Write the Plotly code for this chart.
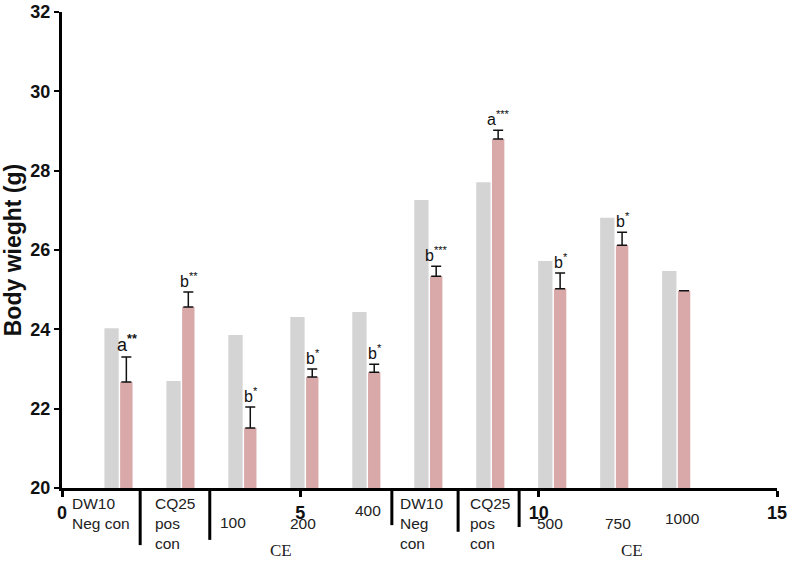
import plotly.graph_objects as go

# 数据
groups = ["DW10 Neg con", "CQ25 pos con", "CE 100", "CE 200", "CE 400",
          "DW10 Neg con", "CQ25 pos con", "CE 500", "CE 750", "CE 1000"]
grey_vals = [24.03, 22.70, 23.86, 24.31, 24.44, 27.26, 27.71, 25.72, 26.81, 25.47]
pink_vals = [22.67, 24.56, 21.51, 22.80, 22.92, 25.34, 28.80, 25.02, 26.12, 24.97]
pink_err = [0.63, 0.38, 0.53, 0.20, 0.20, 0.25, 0.22, 0.40, 0.33, None]
sig_labels = ["a<sup><b>**</b></sup>", "b<sup>**</sup>", "b<sup>*</sup>", "b<sup>*</sup>",
              "b<sup>*</sup>", "b<sup>***</sup>", "a<sup>***</sup>", "b<sup>*</sup>",
              "b<sup>*</sup>", ""]
x_ticks = [0, 5, 10, 15]
y_ticks = [20, 22, 24, 26, 28, 30, 32]

# 组位置（数值x轴）
xpos = [1.2 + 1.3 * i for i in range(len(groups))]

FONT = "Arial, Liberation Sans, sans-serif"

fig = go.Figure()
fig.add_trace(go.Bar(
    x=xpos, y=grey_vals, offset=-0.31, width=0.30,
    marker=dict(color='#d4d4d4', line_width=0), name='before'
))
fig.add_trace(go.Bar(
    x=xpos, y=pink_vals, offset=0.02, width=0.26,
    marker=dict(color='#d9a9a9', line_width=0), name='after',
    error_y=dict(type='data', symmetric=False, array=pink_err,
                 arrayminus=[0] * len(pink_err),
                 color='#111111', thickness=1.5, width=5)
))

annotations = []
# 显著性标记
for i, (x, v, e, lab) in enumerate(zip(xpos, pink_vals, pink_err, sig_labels)):
    if lab:
        annotations.append(dict(
            x=x + 0.16, y=v + (e or 0), xref='x', yref='y', text=lab, showarrow=False,
            yanchor='bottom', font=dict(family=FONT, size=18 if i == 0 else 16, color='#111')
        ))

# x轴下方的分组标签 (x, 文本, 距轴像素)
under_labels = [
    (0.17, "DW10<br>Neg con", 5),
    (1.91, "CQ25<br>pos<br>con", 5),
    (3.27, "100", 24),
    (4.74, "200", 25),
    (6.10, "400", 12),
    (7.05, "DW10<br>Neg<br>con", 5),
    (8.52, "CQ25<br>pos<br>con", 5),
    (9.92, "500", 25),
    (11.35, "750", 25),
    (12.60, "1000", 20),
]
for x, t, off in under_labels:
    annotations.append(dict(
        x=x, y=0, xref='x', yref='paper', text=t, showarrow=False,
        xanchor='left', yanchor='top', yshift=-off, align='left',
        font=dict(family=FONT, size=15.5, color='#222')
    ))
for x in [4.59, 11.96]:
    annotations.append(dict(
        x=x, y=0, xref='x', yref='paper', text="CE", showarrow=False,
        xanchor='center', yanchor='top', yshift=-51,
        font=dict(family="Liberation Serif, Times New Roman, serif", size=17, color='#222')
    ))

# 分隔竖线
shapes = []
for x, y1 in [(1.64, -0.12), (3.10, -0.109), (6.92, -0.078), (8.31, -0.092), (9.59, -0.082)]:
    shapes.append(dict(type='line', xref='x', yref='paper', x0=x, x1=x, y0=0, y1=y1,
                       line=dict(color='black', width=3)))

fig.update_layout(
    width=791, height=562,
    margin=dict(l=62, r=14, t=12, b=74),
    paper_bgcolor='white', plot_bgcolor='white',
    barmode='overlay', showlegend=False,
    annotations=annotations, shapes=shapes,
    xaxis=dict(range=[0, 15], tickvals=x_ticks, ticktext=[f"<b>{t}</b>" for t in x_ticks],
               showline=True, linecolor='black', linewidth=3, ticks='outside',
               ticklen=6, tickwidth=3, tickcolor='black', showgrid=False, zeroline=False,
               automargin=False,
               tickfont=dict(family=FONT, size=18, color='#111')),
    yaxis=dict(range=[20, 32], tickvals=y_ticks, ticktext=[f"<b>{t}</b>" for t in y_ticks],
               showline=True, linecolor='black', linewidth=3, ticks='outside',
               ticklen=5, tickwidth=2, tickcolor='black', showgrid=False, zeroline=False,
               automargin=False,
               tickfont=dict(family=FONT, size=18, color='#111'),
               title=dict(text="<b>Body wieght (g)</b>", standoff=14,
                          font=dict(family=FONT, size=23, color='#111'))),
)

# 去掉页面body默认的8px外边距
fig.write_html("out.html", config={'displayModeBar': False},
               post_script="document.body.style.margin='0';")
